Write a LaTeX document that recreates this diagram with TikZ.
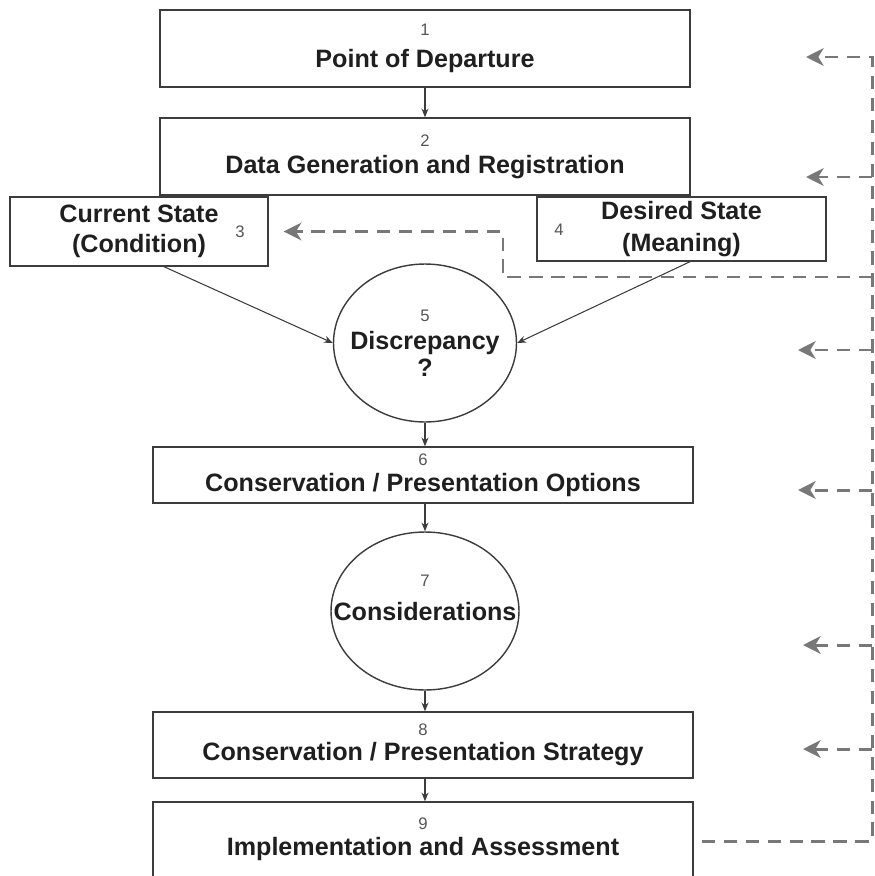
\documentclass[tikz,border=0pt]{standalone}
\usepackage{fontspec}
\setmainfont{Liberation Sans}
\usepackage{tikz}
\usetikzlibrary{positioning, calc, shapes.geometric, arrows.meta}
\definecolor{lineGray}{RGB}{60, 60, 60}
\definecolor{dashGray}{RGB}{120, 120, 120}
\definecolor{numGray}{RGB}{85, 85, 85}
\newcommand{\stepnum}[1]{{\fontsize{9.5}{10}\selectfont\mdseries\color{numGray}#1}}

\begin{document}
\begin{tikzpicture}[
    x=0.02cm, y=-0.02cm,
    stepbox/.style={rectangle, draw=lineGray, line width=0.8pt, fill=white,
                    minimum width=10.8cm, align=center, inner sep=0pt, text=black!88,
                    font=\fontsize{14.3}{17}\selectfont\bfseries},
    stepoval/.style={ellipse, draw=lineGray, line width=0.8pt, fill=white,
                     align=center, inner sep=0pt, text=black!88,
                     font=\fontsize{14.3}{17}\selectfont\bfseries},
    flow/.style={draw=lineGray, line width=0.6pt, -{Stealth[length=5pt, width=4pt]}},
    feedback/.style={draw=dashGray, line width=1.7pt, dash pattern=on 7.5pt off 5pt,
                     -{Stealth[length=10pt, width=10pt, inset=3pt]}},
  ]
    \useasboundingbox (0,0) rectangle (875,876);

    % Point of Departure
    \node[stepbox, minimum width=10.6cm, minimum height=1.54cm] (b1) at (425,48.5) {
      \stepnum{1}\\[1.5pt]
      Point of Departure
    };

    % Data Generation and Registration
    \node[stepbox, minimum width=10.6cm, minimum height=1.54cm] (b2) at (425,156.5) {
      \stepnum{2}\\[-1.5pt]
      Data Generation and Registration
    };

    % Current State / Desired State
    \node[stepbox, minimum width=5.16cm, minimum height=1.38cm] (b3) at (139,231.5) {
      Current State\\[0pt]
      (Condition)
    };
    \node[text=numGray, font=\fontsize{9.5}{10}\selectfont] (n3) at (240,232) {3};

    \node[stepbox, minimum width=5.78cm, minimum height=1.28cm] (b4) at (681.5,229) {
      Desired State\\[1pt]
      (Meaning)
    };
    \node[text=numGray, font=\fontsize{9.5}{10}\selectfont] (n4) at (559,230) {4};

    % Discrepancy
    \node[stepoval, minimum width=3.66cm, minimum height=3.16cm] (e5) at (425,343) {
      \stepnum{5}\\[-1pt]
      \makebox[0pt]{Discrepancy}\\[-1.5pt]
      ?
    };

    % Conservation / Presentation Options
    \node[stepbox, minimum height=1.12cm] (b6) at (423,475) {
      \stepnum{6}\\[-2pt]
      Conservation / Presentation Options
    };

    % Considerations
    \node[stepoval, minimum width=3.76cm, minimum height=3.16cm] (e7) at (425,611) {
      \stepnum{7}\\[2pt]
      \makebox[0pt]{Considerations}\\[-2pt]
    };

    % Conservation / Presentation Strategy
    \node[stepbox, minimum height=1.32cm] (b8) at (423,745) {
      \stepnum{8}\\[-2.5pt]
      Conservation / Presentation Strategy
    };

    % Implementation and Assessment
    \node[stepbox, minimum height=1.56cm] (b9) at (423,841) {
      \stepnum{9}\\[-2pt]
      Implementation and Assessment\\[-12pt]
    };

    % main flow
    \draw[flow] (b1) -- (b2);
    \draw[flow] ([xshift=0.5cm]b3.south) -- (e5.west);
    \draw[flow] ([xshift=0.17cm]b4.south) -- (e5.east);
    \draw[flow] (e5.south) -- (e5.south |- b6.north);
    \draw[flow] (e5.south |- b6.south) -- (e7.north);
    \draw[flow] (e7.south) -- (e7.south |- b8.north);
    \draw[flow] (e7.south |- b8.south) -- (e7.south |- b9.north);

    % feedback rail
    \coordinate (railTop) at (872,57);
    \coordinate (fb1) at (806,57);
    \coordinate (fb2) at (806,177);
    \coordinate (fb5) at (798,350);
    \coordinate (fb6) at (798,490);
    \coordinate (fb7) at (803,645);
    \coordinate (fb8) at (803,749);
    \coordinate (kneeA) at (872,277);
    \coordinate (kneeB) at (503,277);

    \draw[feedback, shorten <=0.16cm] (b9.east) -- (b9.east -| railTop) -- (railTop) -- (fb1);
    \draw[feedback] (railTop |- fb2) -- (fb2);
    \draw[feedback] (railTop |- fb5) -- (fb5);
    \draw[feedback] (railTop |- fb6) -- (fb6);
    \draw[feedback] (railTop |- fb7) -- (fb7);
    \draw[feedback] (railTop |- fb8) -- (fb8);
    \draw[feedback, shorten >=0.3cm] (kneeA) -- (kneeB) -- (kneeB |- b3.east) -- (b3.east);
  \end{tikzpicture}
\end{document}
